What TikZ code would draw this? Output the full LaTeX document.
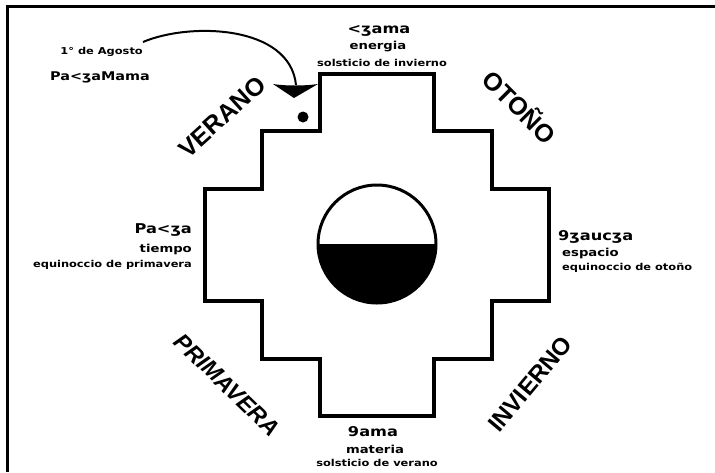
\documentclass[tikz,border=0pt]{standalone}
\usepackage{fontspec}
\setmainfont{DejaVu Sans}
\newfontfamily\lblfont[FakeStretch=1.2]{DejaVu Sans}
\newfontfamily\seasonfont{Liberation Sans}
\begin{document}
\begin{tikzpicture}[x=1pt,y=-1pt,
  frameline/.style={line width=3pt},
  crossline/.style={line width=4.5pt,line join=miter},
  small/.style={inner sep=0pt,font=\lblfont\bfseries\fontsize{9.5}{10}\selectfont},
  mid/.style={inner sep=0pt,font=\lblfont\bfseries\fontsize{11}{12}\selectfont},
  big/.style={inner sep=0pt,font=\lblfont\bfseries\fontsize{13.5}{14}\selectfont},
  season/.style={inner sep=0pt,font=\seasonfont\bfseries\fontsize{25}{26}\selectfont}]
\useasboundingbox (0,0) rectangle (715,472);
\fill[white] (0,0) rectangle (715,472);
% frame (left and top edges)
\draw[frameline] (7,472) -- (7,6.5) -- (715,6.5);
% chakana
\draw[crossline] (320,74) -- (434,74) -- (434,131) -- (492,131) -- (492,189) -- (549,189)
  -- (549,301) -- (492,301) -- (492,359) -- (434,359) -- (434,416) -- (320,416)
  -- (320,359) -- (262,359) -- (262,301) -- (205,301) -- (205,189) -- (262,189)
  -- (262,131) -- (320,131) -- cycle;
% central circle
\coordinate (c) at (377,244);
\fill[black] (436,244) arc[start angle=0,end angle=180,radius=59] -- cycle;
\draw[line width=3pt] (c) circle[radius=59];
\draw[line width=1pt] (318,244) -- (436,244);
% marker
\coordinate (tri) at (296,85);
\fill[black] (273,84) .. controls (285,86) and (305,86) .. (318,84) -- (294,98) -- cycle;
\fill[black] (303,117) circle[radius=5.5];
% labels
\node[small,anchor=east] (agosto) at (143,52) {1° de Agosto};
\node[big,anchor=west,font=\lblfont\bfseries\fontsize{12}{13}\selectfont] (pmama) at (50,77) {Pa<ʒaMama};
\coordinate (cstart) at (143,42);
\draw[line width=2pt] (cstart) .. controls (190,22) and (290,25) .. (tri);
% top
\node[big] (n1) at (379,31) {<ʒama};
\node[mid] (n2) at (378,47) {energia};
\node[small] (n3) at (382,63) {solsticio de invierno};
% bottom
\node[big] (s1) at (373,432) {9ama};
\node[mid] (s2) at (375,449) {materia};
\node[small] (s3) at (377,463) {solsticio de verano};
% left
\node[big,anchor=east] (w1) at (192,230) {Pa<ʒa};
\node[mid,anchor=east] (w2) at (192,249) {tiempo};
\node[small,anchor=east] (w3) at (192,265) {equinoccio de primavera};
% right
\node[big,anchor=west] (e1) at (558,237) {9ʒaucʒa};
\node[mid,anchor=west] (e2) at (562,253) {espacio};
\node[small,anchor=west] (e3) at (562,268) {equinoccio de otoño};
% seasons
\node[season,rotate=42] (ver) at (222,117) {VERANO};
\node[season,rotate=-45] (oto) at (521,106) {OTOÑO};
\node[season,rotate=-44,font=\seasonfont\bfseries\itshape\fontsize{23}{24}\selectfont] (pri) at (227,385) {PRIMAVERA};
\node[season,rotate=50,font=\seasonfont\bfseries\fontsize{24}{25}\selectfont] (inv) at (530,384) {INVIERNO};
\end{tikzpicture}
\end{document}
